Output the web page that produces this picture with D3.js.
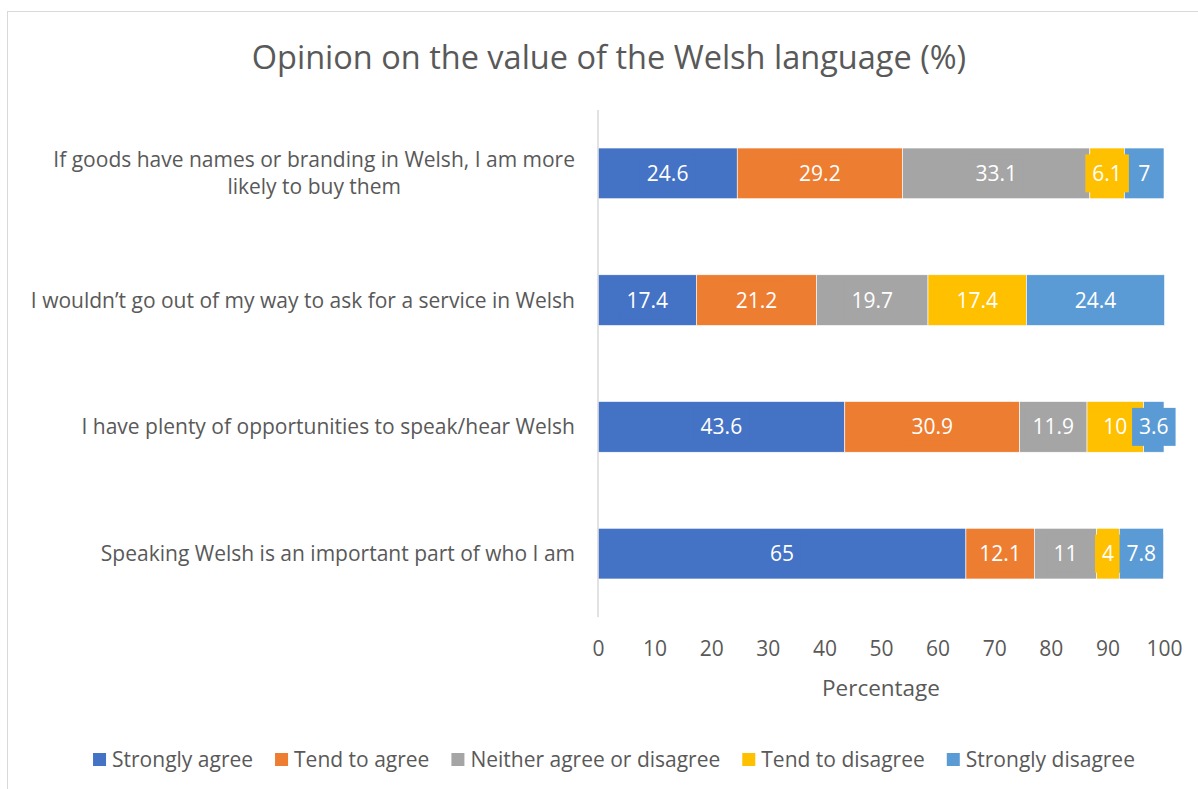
<!DOCTYPE html>
<html lang="en">
<head>
    <title>Opinion on the value of the Welsh language</title>
    <script src="https://d3js.org/d3.v7.min.js"></script>
    <style>
        body { margin: 0; background: #fff; }
        text { font-family: "Open Sans", "Noto Sans", sans-serif; }
    </style>
</head>
<body>
    <div id="chart"></div>
    <script>

        // statements, top to bottom as in the chart
        const categories = [
            "If goods have names or branding in Welsh, I am more likely to buy them",
            "I wouldn\u2019t go out of my way to ask for a service in Welsh",
            "I have plenty of opportunities to speak/hear Welsh",
            "Speaking Welsh is an important part of who I am"
        ];

        // wrapped lines of the category labels
        const categoryLines = [
            ["If goods have names or branding in Welsh, I am more", "likely to buy them"],
            ["I wouldn\u2019t go out of my way to ask for a service in Welsh"],
            ["I have plenty of opportunities to speak/hear Welsh"],
            ["Speaking Welsh is an important part of who I am"]
        ];

        const seriesNames = ["Strongly agree", "Tend to agree", "Neither agree or disagree", "Tend to disagree", "Strongly disagree"];
        const seriesColors = ["#4472C4", "#ED7D31", "#A5A5A5", "#FFC000", "#5B9BD5"];

        // values per series, in category order
        const stronglyAgree = [24.6, 17.4, 43.6, 65];
        const tendToAgree = [29.2, 21.2, 30.9, 12.1];
        const neither = [33.1, 19.7, 11.9, 11];
        const tendToDisagree = [6.1, 17.4, 10, 4];
        const stronglyDisagree = [7, 24.4, 3.6, 7.8];

        const xTicks = [0, 10, 20, 30, 40, 50, 60, 70, 80, 90, 100];

        const seriesValues = [stronglyAgree, tendToAgree, neither, tendToDisagree, stronglyDisagree];

        const W = 1198, H = 789;
        const textColor = "#595959";
        const fs = "21px";

        const svg = d3.select("#chart")
            .append("svg")
            .attr("width", W)
            .attr("height", H);

        // chart area border (runs off the right and bottom)
        svg.append("rect")
            .attr("x", 7.5).attr("y", 11.5)
            .attr("width", W + 10).attr("height", H + 10)
            .attr("fill", "#fff")
            .attr("stroke", "#d9d9d9")
            .attr("stroke-width", 1);

        svg.append("text")
            .attr("x", 609).attr("y", 69)
            .attr("text-anchor", "middle")
            .style("font-size", "32.5px")
            .style("fill", textColor)
            .text("Opinion on the value of the Welsh language (%)");

        const x = d3.scaleLinear().domain([0, 100]).range([598, 1164]);
        const y = d3.scaleBand().domain(categories).range([110, 617])
            .paddingInner(0.6).paddingOuter(0.3);

        // stacked segments
        const rows = categories.map((c, i) => {
            let start = 0;
            return seriesValues.map((vals, s) => {
                const seg = { cat: c, s: s, v: vals[i], x0: start, x1: start + vals[i] };
                start += vals[i];
                return seg;
            });
        });
        const segments = rows.flat();

        svg.append("g").selectAll("rect")
            .data(segments)
            .enter()
                .append("rect")
                .attr("x", d => x(d.x0))
                .attr("y", d => y(d.cat))
                .attr("width", d => x(d.x1) - x(d.x0))
                .attr("height", y.bandwidth())
                .style("fill", d => seriesColors[d.s])
                .style("stroke", "#fff")
                .style("stroke-width", 0.6);

        // vertical axis line
        svg.append("line")
            .attr("x1", x(0)).attr("x2", x(0))
            .attr("y1", 110).attr("y2", 617)
            .style("stroke", "#d9d9d9")
            .style("stroke-width", 1.5);

        // data labels with a filled box, drawn series by series
        const labelG = svg.append("g");
        segments.sort((a, b) => a.s - b.s).forEach(d => {
            const g = labelG.append("g");
            const cx = x((d.x0 + d.x1) / 2);
            const cy = y(d.cat) + y.bandwidth() / 2;
            const t = g.append("text")
                .attr("x", cx).attr("y", cy + 7.5)
                .attr("text-anchor", "middle")
                .style("font-size", fs)
                .style("fill", "#fff")
                .text(d.v);
            const tw = t.node().getComputedTextLength() + 14;
            g.insert("rect", "text")
                .attr("x", cx - tw / 2).attr("y", cy - 19)
                .attr("width", tw).attr("height", 38)
                .style("fill", seriesColors[d.s]);
        });

        // category labels
        categories.forEach((c, i) => {
            const lines = categoryLines[i];
            const cy = y(c) + y.bandwidth() / 2;
            const lh = 27;
            const g = svg.append("g");
            const t0 = g.append("text")
                .attr("x", 575)
                .attr("y", cy + 7.5 - (lines.length - 1) * lh / 2)
                .attr("text-anchor", "end")
                .style("font-size", fs)
                .style("fill", textColor)
                .text(lines[0]);
            const w0 = t0.node().getComputedTextLength();
            lines.slice(1).forEach((l, j) => {
                g.append("text")
                    .attr("x", 575 - w0 / 2)
                    .attr("y", cy + 7.5 - (lines.length - 1) * lh / 2 + (j + 1) * lh)
                    .attr("text-anchor", "middle")
                    .style("font-size", fs)
                    .style("fill", textColor)
                    .text(l);
            });
        });

        // x axis tick labels
        const xAxis = svg.append("g")
            .attr("transform", "translate(0,641)")
            .call(d3.axisBottom(x).tickValues(xTicks).tickSize(0).tickPadding(0));
        xAxis.select(".domain").remove();
        xAxis.selectAll("text")
            .style("font-size", fs)
            .style("fill", textColor)
            .style("font-family", "'Open Sans', 'Noto Sans', sans-serif");

        svg.append("text")
            .attr("x", (x(0) + x(100)) / 2).attr("y", 696)
            .attr("text-anchor", "middle")
            .style("font-size", "22.5px")
            .style("fill", textColor)
            .text("Percentage");

        // legend
        const legend = svg.append("g");
        let lx = 0;
        seriesNames.forEach((n, i) => {
            const item = legend.append("g").attr("transform", `translate(${lx},0)`);
            item.append("rect")
                .attr("x", 0).attr("y", -6)
                .attr("width", 13).attr("height", 13)
                .style("fill", seriesColors[i]);
            const t = item.append("text")
                .attr("x", 19).attr("y", 7.5)
                .style("font-size", fs)
                .style("fill", textColor)
                .text(n);
            lx += 19 + t.node().getComputedTextLength() + 22;
        });
        const legendW = lx - 22;
        legend.attr("transform", `translate(${614 - legendW / 2},759)`);

    </script>
</body>
</html>
